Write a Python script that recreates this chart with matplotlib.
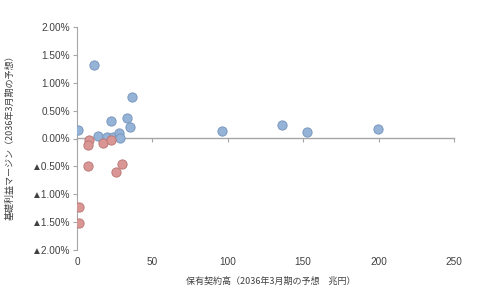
import matplotlib
matplotlib.use("Agg")
import matplotlib.pyplot as plt

plt.rcParams['font.family'] = ['Liberation Sans', 'Noto Sans CJK JP', 'DejaVu Sans']

# Data (x: 保有契約高 兆円, y: 基礎利益マージン %)
blue_x = [0.7, 11.0, 14.1, 19.7, 22.8, 23.6, 27.6, 28.5, 33.2, 35.1, 36.5, 96.2, 136.0, 152.7, 199.4]
blue_y = [0.15, 1.32, 0.05, 0.02, 0.32, 0.02, 0.10, 0.01, 0.37, 0.20, 0.75, 0.13, 0.25, 0.11, 0.165]
red_x = [1.1, 1.5, 8.2, 7.1, 7.5, 17.5, 22.5, 26.0, 29.6]
red_y = [-1.52, -1.23, -0.03, -0.12, -0.49, -0.08, -0.02, -0.60, -0.45]

x_ticks = [0, 50, 100, 150, 200, 250]
y_ticks = [-2.0, -1.5, -1.0, -0.5, 0.0, 0.5, 1.0, 1.5, 2.0]
y_tick_labels = ['▲2.00%', '▲1.50%', '▲1.00%', '▲0.50%', '0.00%', '0.50%', '1.00%', '1.50%', '2.00%']
x_label = '保有契約高（2036年3月期の予想　兆円）'
y_label = '基礎利益マージン（2036年3月期の予想）'

fig = plt.figure(figsize=(4.96, 2.96), dpi=100)
ax = fig.add_axes([77/496, 1-250/296, (454-77)/496, (250-27)/296])

ax.scatter(blue_x, blue_y, s=44, color='#95B3D7', edgecolors='#7A98BE', linewidths=0.7, zorder=3)
ax.scatter(red_x, red_y, s=44, color='#D99694', edgecolors='#BC7A78', linewidths=0.7, zorder=3)

ax.set_xlim(0, 250)
ax.set_ylim(-2.0, 2.0)

gray = '#A6A6A6'
for s in ['top', 'right', 'bottom']:
    ax.spines[s].set_visible(False)
ax.spines['left'].set_color(gray)

ax.set_yticks(y_ticks)
ax.set_yticklabels(y_tick_labels)
ax.tick_params(axis='y', direction='out', length=3, color=gray, labelsize=7.2, labelcolor='#404040', pad=2)

ax.set_xticks(x_ticks)
ax.set_xticklabels([str(t) for t in x_ticks])
ax.tick_params(axis='x', length=0, labelsize=7.2, labelcolor='#404040', pad=5)

sec = ax.secondary_xaxis(0.5)
sec.set_xticks(x_ticks)
sec.tick_params(axis='x', which='both', direction='in', length=3, color=gray,
                labelbottom=False, labeltop=False)
for sp in sec.spines.values():
    sp.set_color(gray)
    sp.set_linewidth(1.0)

fig.text(271/496, 1-281/296, x_label, ha='center', va='center', fontsize=6.5, color='#404040',
         family=['Noto Sans CJK JP', 'DejaVu Sans'])
fig.text(10/496, 1-135/296, y_label, ha='center', va='center', rotation=90, fontsize=6.5, color='#404040',
         family=['Noto Sans CJK JP', 'DejaVu Sans'])

fig.savefig('out.png', dpi=100)
